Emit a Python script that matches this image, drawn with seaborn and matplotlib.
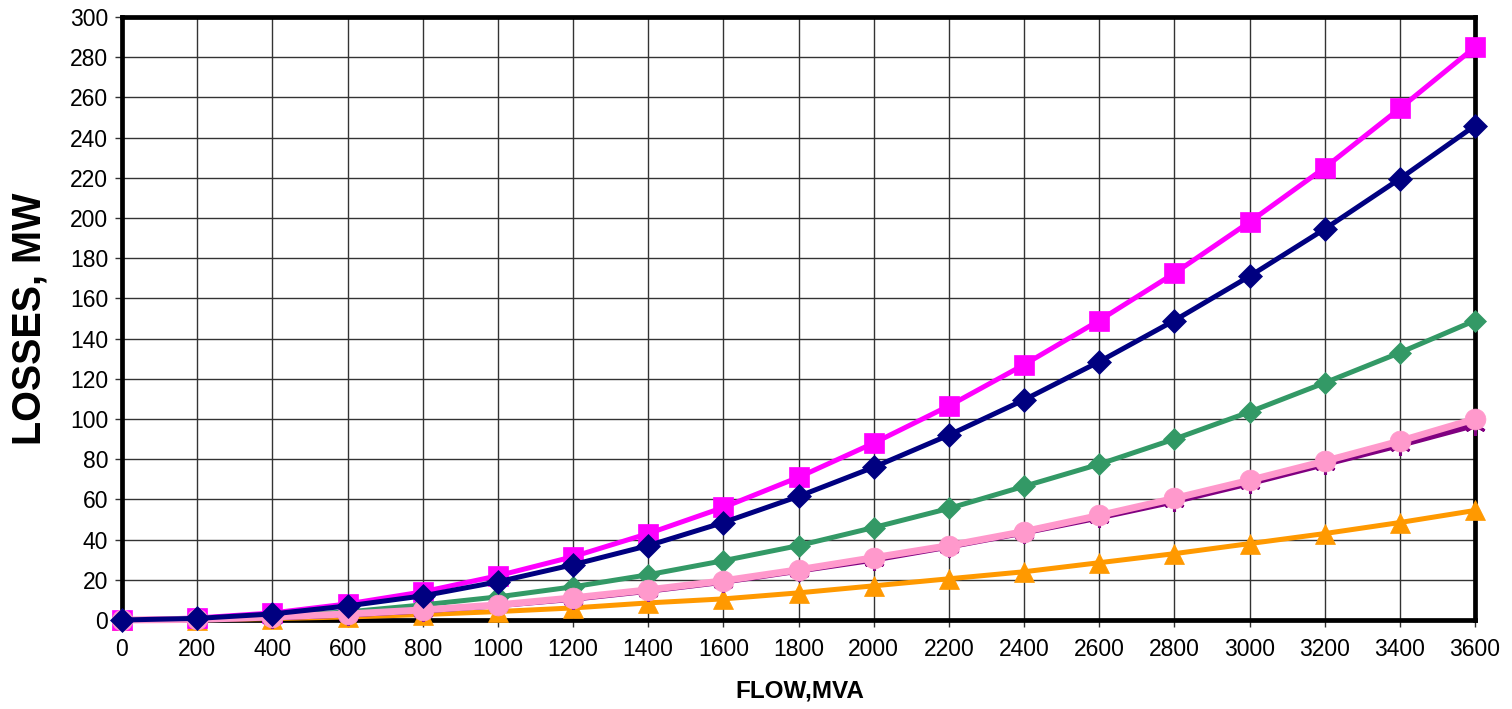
import numpy as np
import pandas as pd
import matplotlib
matplotlib.use("Agg")
import matplotlib.pyplot as plt
import seaborn as sns

flow = [0, 200, 400, 600, 800, 1000, 1200, 1400, 1600, 1800, 2000, 2200,
        2400, 2600, 2800, 3000, 3200, 3400, 3600]

magenta_sq = [0, 1, 3.5, 8, 14, 22, 31.5, 43, 56, 71, 88, 106.5,
              127, 149, 172.5, 198, 225, 254.5, 285]
navy_dia = [0, 0.8, 3, 7, 12, 19, 27.5, 37, 48.5, 61.5, 76, 92,
            109.5, 128.5, 149, 171, 194.5, 219.5, 246]
green_dia = [0, 0.5, 2, 4, 7.5, 11.5, 16.5, 22.5, 29.5, 37, 46, 55.5,
             66.5, 77.5, 90, 103.5, 118, 133, 149]
purple_star = [0, 0.3, 1.2, 2.7, 4.7, 7.3, 10.5, 14.5, 19, 24.5, 30, 36.5,
               43.5, 51, 59, 68, 77.5, 87, 97]
pink_circ = [0, 0.3, 1.5, 3, 5, 7.5, 11, 15, 19.5, 25, 31, 37,
             44, 52, 60.5, 69.5, 79, 89, 100]
orange_tri = [0, 0.2, 0.7, 1.5, 2.7, 4.2, 6, 8.5, 10.5, 13.5, 17, 20.5,
              24, 28.5, 33, 38, 43, 48.5, 54.5]

x_ticks = list(range(0, 3601, 200))
y_ticks = list(range(0, 301, 20))

sns.set_style("white")
plt.rcParams['font.family'] = ['Liberation Sans', 'DejaVu Sans']
plt.rcParams['text.color'] = 'black'
plt.rcParams['axes.labelcolor'] = 'black'
plt.rcParams['xtick.color'] = 'black'
plt.rcParams['ytick.color'] = 'black'

fig = plt.figure(figsize=(15.12, 7.09), dpi=100)
ax = fig.add_axes([122/1512, 1-620/709, (1475-122)/1512, (620-17)/709])

series = [
    # data, color, marker, markersize, lw, zorder
    (orange_tri, "#FF9900", "^", 15, 3.6, 3),
    (magenta_sq, "#FF00FF", "s", 15, 3.6, 4),
    (green_dia, "#339966", "D", 11, 3.6, 5),
    (purple_star, "#800080", (6, 2, 0), 15, 4.2, 6),
    (pink_circ, "#FF99CC", "o", 15, 5.0, 7),
    (navy_dia, "#000080", "D", 12, 3.6, 8),
]

for data, color, marker, ms, lw, z in series:
    df = pd.DataFrame({"flow": flow, "loss": data})
    sns.lineplot(data=df, x="flow", y="loss", ax=ax, color=color,
                 marker=marker, markersize=ms, linewidth=lw,
                 markeredgecolor=color, markeredgewidth=2.2 if marker == (6, 2, 0) else 0.5,
                 clip_on=False, zorder=z, legend=False)

ax.set_xlim(0, 3600)
ax.set_ylim(0, 300)
ax.set_xticks(x_ticks)
ax.set_yticks(y_ticks)
ax.set_xticklabels([str(v) for v in x_ticks])
ax.set_yticklabels([str(v) for v in y_ticks])

ax.grid(True, color="#333333", linewidth=1.0)
ax.set_axisbelow(True)
for sp in ax.spines.values():
    sp.set_color("black")
    sp.set_linewidth(3.4)
    sp.set_visible(True)
    sp.set_zorder(2)

ax.tick_params(axis="both", direction="out", length=5, width=1, color="#333333",
               labelsize=16.5, labelcolor="black", pad=5,
               bottom=True, left=True)
ax.tick_params(axis="x", pad=8)

ax.set_xlabel("FLOW,MVA", fontsize=17.5, fontweight="bold", color="black")
ax.set_ylabel("LOSSES, MW", fontsize=28.5, fontweight="bold", color="black")
ax.xaxis.set_label_coords(0.501, -0.118)
ax.xaxis.label.set_va("center")
ax.yaxis.set_label_coords(-0.0687, 0.5)
ax.yaxis.label.set_va("center")

fig.savefig("out.png", dpi=100, facecolor="white")
